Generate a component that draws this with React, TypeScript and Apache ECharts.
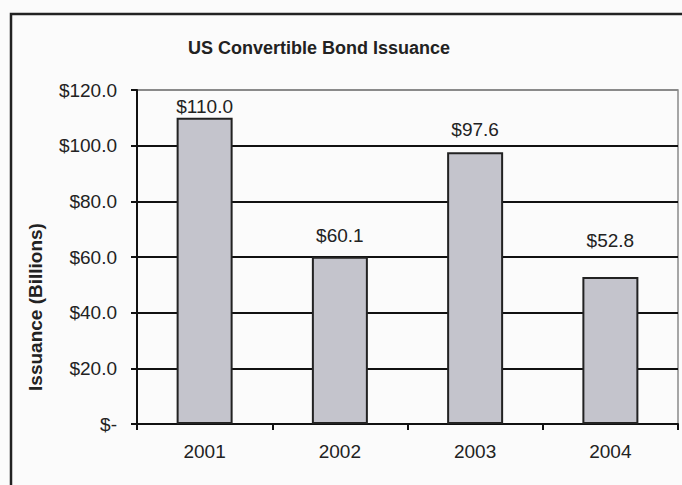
import React, { useEffect, useRef } from "react";
import * as echarts from "echarts";

const categories = ["2001", "2002", "2003", "2004"];
const issuance = [110.0, 60.1, 97.6, 52.8];
const yTicks = [0, 20, 40, 60, 80, 100, 120];
// gap (px) between each bar top and its value label, as placed in the reference
const labelGaps = [2, 12, 13, 27];

const FONT = "Arial, 'Liberation Sans', sans-serif";
const TEXT = "#222";

export default function App() {
  const ref = useRef<HTMLDivElement>(null);
  useEffect(() => {
    if (!ref.current) return;
    const chart = echarts.init(ref.current, null, { renderer: "svg" });
    chart.setOption({
      animation: false,
      backgroundColor: "#fbfbfb",
      textStyle: { fontFamily: FONT },
      title: {
        text: "US Convertible Bond Issuance",
        left: 314,
        top: 34,
        textAlign: "center",
        textStyle: { fontFamily: FONT, fontSize: 18, fontWeight: "bold", color: TEXT },
      },
      grid: {
        left: 137,
        top: 90,
        right: 4,
        bottom: 61,
        show: true,
        borderColor: "#8a8a8a",
        borderWidth: 1.5,
        backgroundColor: "transparent",
      },
      xAxis: {
        type: "category",
        data: categories,
        axisLine: { lineStyle: { color: "#111", width: 2 } },
        axisTick: { show: true, length: 6, lineStyle: { color: "#111", width: 2 } },
        axisLabel: { fontFamily: FONT, fontSize: 19, color: TEXT, margin: 18 },
      },
      yAxis: {
        type: "value",
        min: yTicks[0],
        max: yTicks[yTicks.length - 1],
        interval: 20,
        axisLine: { show: true, lineStyle: { color: "#111", width: 2 } },
        axisTick: { show: true, length: 6, lineStyle: { color: "#111", width: 2 } },
        axisLabel: {
          fontFamily: FONT,
          fontSize: 19,
          color: TEXT,
          margin: 20,
          formatter: (v: number) => (v === 0 ? "$-" : "$" + v.toFixed(1)),
        },
        splitLine: {
          show: true,
          lineStyle: {
            color: ["#111", "#111", "#111", "#111", "#111", "#111", "#8a8a8a"],
            width: 2,
          },
        },
      },
      series: [
        {
          type: "bar",
          data: issuance.map((v, i) => ({ value: v, label: { distance: labelGaps[i] } })),
          barWidth: 56,
          itemStyle: { color: "#c4c4cc", borderColor: "#222", borderWidth: 2 },
          label: {
            show: true,
            position: "top",
            fontFamily: FONT,
            fontSize: 19,
            color: TEXT,
            formatter: (p: any) => "$" + Number(p.value).toFixed(1),
          },
        },
      ],
      graphic: [
        {
          type: "rect",
          shape: { x: 11, y: 14, width: 700, height: 500 },
          style: { fill: "none", stroke: "#222", lineWidth: 2.5 },
          silent: true,
        },
        {
          type: "text",
          x: 35,
          y: 307,
          rotation: Math.PI / 2,
          style: {
            text: "Issuance (Billions)",
            fontFamily: FONT,
            fontSize: 19,
            fontWeight: "bold",
            fill: TEXT,
            align: "center",
            verticalAlign: "middle",
          },
        },
      ],
    });
    return () => chart.dispose();
  }, []);
  return (
    <div
      ref={ref}
      style={{ position: "fixed", left: 0, top: 0, width: 682, height: 485 }}
    />
  );
}
